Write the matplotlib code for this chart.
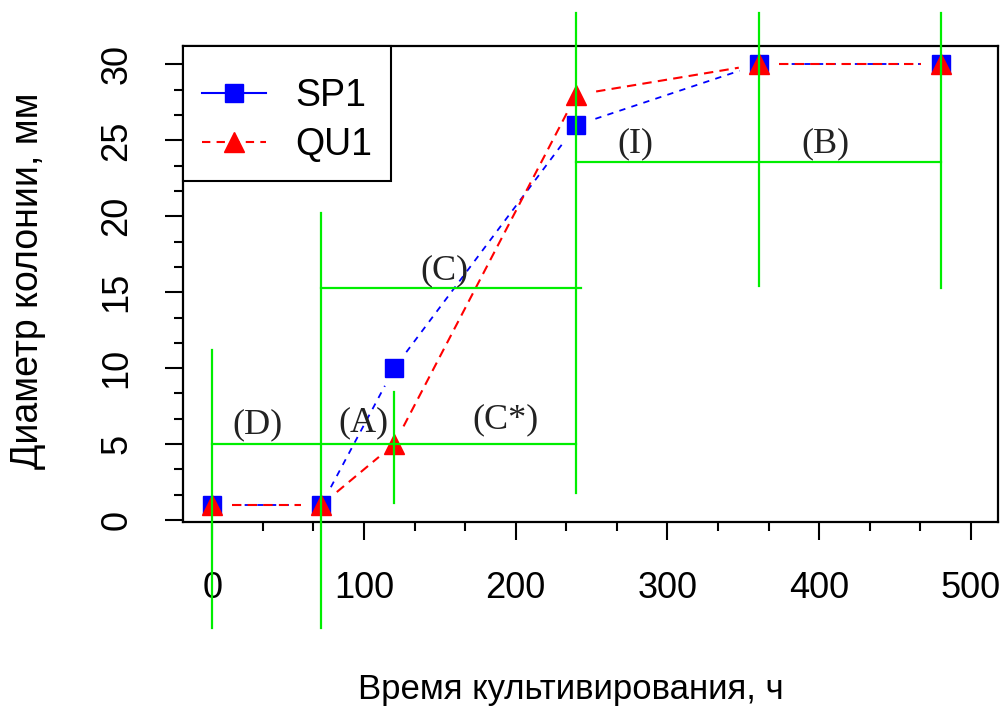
import numpy as np
import matplotlib
matplotlib.use('Agg')
import matplotlib.pyplot as plt
from matplotlib.pyplot import MultipleLocator
from matplotlib.lines import Line2D

# data
hours = [0, 72, 120, 240, 360, 480]
sp1 = [1, 1, 10, 26, 30, 30]
qu1 = [1, 1, 5, 28, 30, 30]

# green phase lines: x, y_from, y_to
vlines_x = [0, 72, 120, 240, 360, 480]
vlines_y0 = [-7.1, -7.1, 1.1, 1.8, 15.4, 15.3]
vlines_y1 = [11.2, 20.2, 8.4, 33.4, 33.4, 33.4]
# y, x_from, x_to
hlines_y = [5.0, 15.3, 23.55]
hlines_x0 = [0, 72, 240]
hlines_x1 = [240, 243, 480]

phase_names = ['(D)', '(A)', '(C*)', '(C)', '(I)', '(B)']
phase_x = [30, 100, 193, 153, 279, 404]
phase_y = [6.3, 6.4, 6.6, 16.4, 24.8, 24.8]

plt.rcParams['font.family'] = ['Liberation Sans', 'DejaVu Sans']

fig = plt.figure(figsize=(10.01, 7.06), dpi=100)
ax = fig.add_axes([0.183, 0.2606, 0.814, 0.674])
ax.set_xlim(-19.1, 517.8)
ax.set_ylim(-0.13, 31.2)

def gapped(x, y, gap=20):
    # draw segments like R type="b": line stops short of the points
    pts = ax.transData.transform(np.column_stack([x, y]))
    inv = ax.transData.inverted()
    segs = []
    for p, q in zip(pts[:-1], pts[1:]):
        d = q - p
        L = np.hypot(*d)
        if L <= 2 * gap:
            continue
        u = d / L
        segs.append(inv.transform(np.array([p + u * gap, q - u * gap])))
    return segs

for s in gapped(hours, sp1):
    ax.plot(s[:, 0], s[:, 1], color='blue', lw=1.3, dashes=(3.5, 3.5))
for s in gapped(hours, qu1):
    ax.plot(s[:, 0], s[:, 1], color='red', lw=1.5, dashes=(4.5, 3))

ax.plot(hours, sp1, ls='none', marker='s', ms=12.5, color='blue', zorder=3)
ax.plot(hours, qu1, ls='none', marker='^', ms=14, color='red', zorder=4)

for x, a, b in zip(vlines_x, vlines_y0, vlines_y1):
    ax.plot([x, x], [a, b], color='#00ee00', lw=1.6, clip_on=False, zorder=5)
for y, a, b in zip(hlines_y, hlines_x0, hlines_x1):
    ax.plot([a, b], [y, y], color='#00ee00', lw=1.6, clip_on=False, zorder=5)

for t, x, y in zip(phase_names, phase_x, phase_y):
    ax.text(x, y, t, ha='center', va='center', fontsize=26,
            family='Liberation Serif', color='#222222', zorder=6)

for sp in ax.spines.values():
    sp.set_linewidth(1.6)

ax.xaxis.set_major_locator(MultipleLocator(100))
ax.xaxis.set_minor_locator(MultipleLocator(100 / 3))
ax.yaxis.set_major_locator(MultipleLocator(5))
ax.yaxis.set_minor_locator(MultipleLocator(5 / 3))
ax.tick_params(which='major', length=13, width=1.5, labelsize=26, pad=22)
ax.tick_params(which='minor', length=6.5, width=1.5)
ax.set_xticks([0, 100, 200, 300, 400, 500])
plt.setp(ax.get_yticklabels(), rotation=90, va='center')

handles = [Line2D([], [], color='blue', lw=1.5, marker='s', ms=12.5),
           Line2D([], [], color='red', lw=1.5, dashes=(4, 3), marker='^', ms=14)]
leg = ax.legend(handles, ['SP1', 'QU1'], loc='upper left', fontsize=27,
                borderaxespad=0, fancybox=False, edgecolor='black', framealpha=1,
                handlelength=1.7, handletextpad=0.8, labelspacing=0.33,
                borderpad=0.5, title=' ', title_fontsize=1)
leg.get_frame().set_linewidth(1.5)
leg.set_zorder(7)

fig.text(0.57, 0.023, 'Время культивирования, ч', ha='center', va='center', fontsize=25)
fig.text(0.028, 0.602, 'Диаметр колонии, мм', ha='center', va='center',
         rotation=90, fontsize=27)

fig.savefig('out.png', dpi=100)
